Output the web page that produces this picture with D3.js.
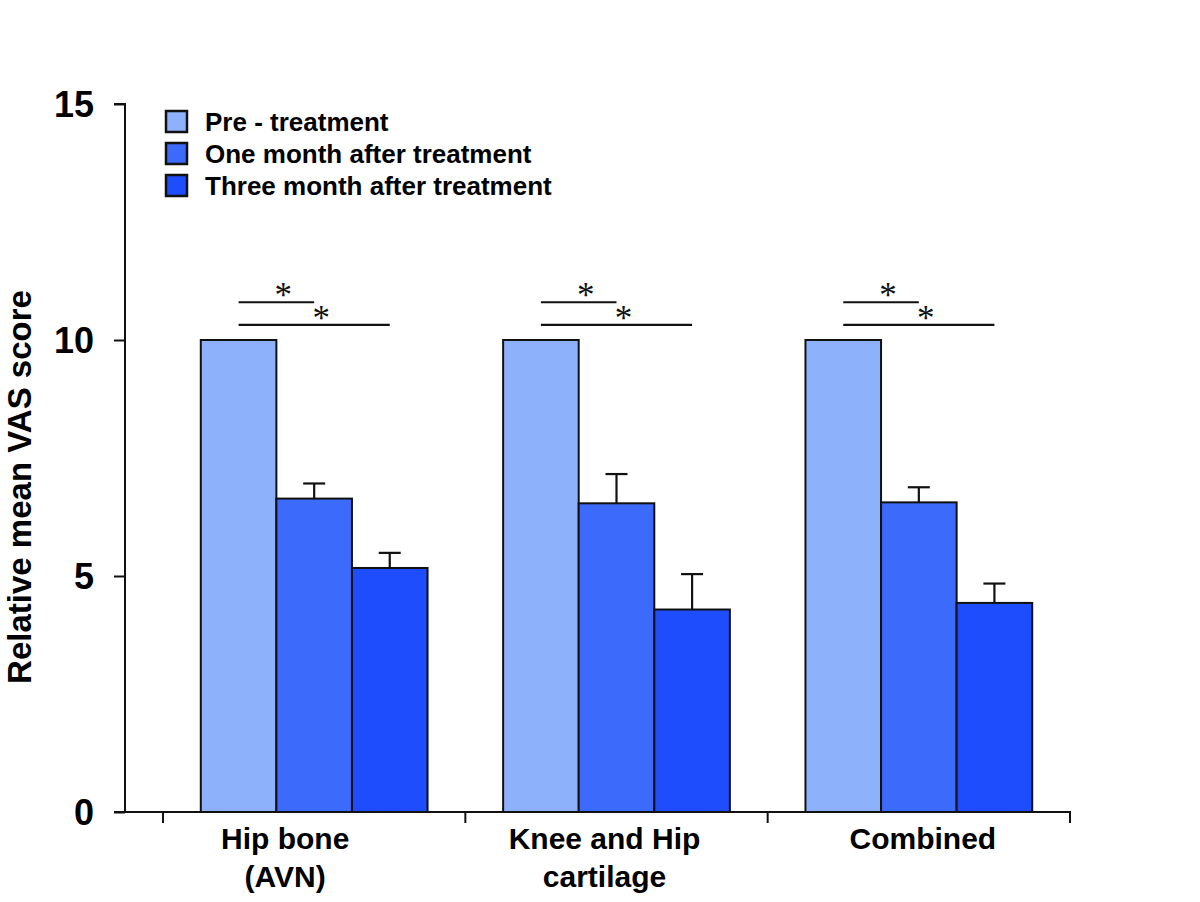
<!DOCTYPE html>
<html>
<head>
<meta charset="utf-8">
<script src="https://cdn.jsdelivr.net/npm/d3@7"></script>
<style>
  html, body { margin: 0; padding: 0; background: #fff; }
  svg { display: block; }
</style>
</head>
<body>
<svg id="chart" width="1200" height="902"></svg>
<script>
// ---- data ----
const categories = [["Hip bone", "(AVN)"], ["Knee and Hip", "cartilage"], ["Combined"]];
const seriesNames = ["Pre - treatment", "One month after treatment", "Three month after treatment"];
const preValues = [10, 10, 10];
const oneMonthValues = [6.64, 6.54, 6.56];
const threeMonthValues = [5.17, 4.29, 4.43];
const preErrors = [0, 0, 0];
const oneMonthErrors = [0.32, 0.62, 0.32];
const threeMonthErrors = [0.32, 0.75, 0.41];
const sigFrom = [0, 0];
const sigTo = [1, 2];
const sigLevel = [10.8, 10.32];
const sigLabel = ["*", "*"];
const yTicks = [0, 5, 10, 15];

// ---- layout / style ----
const colors = ["#8db1fb", "#3c6afa", "#1e4dfd"];
const svg = d3.select("#chart");
const x0 = d3.scaleBand().domain(d3.range(categories.length)).range([163, 1070]).paddingInner(0.25).paddingOuter(0.125);
const x1 = d3.scaleBand().domain(d3.range(seriesNames.length)).range([0, x0.bandwidth()]).padding(0);
const y = d3.scaleLinear().domain([0, 15]).range([812, 104]);
const values = [preValues, oneMonthValues, threeMonthValues];
const errors = [preErrors, oneMonthErrors, threeMonthErrors];
const labelShift = [-29, -12, 4];

// bars
const groups = svg.append("g").selectAll("g").data(categories).join("g")
  .attr("transform", (d, i) => `translate(${x0(i)},0)`);

groups.each(function(cat, ci) {
  const g = d3.select(this);
  seriesNames.forEach((s, si) => {
    const v = values[si][ci];
    g.append("rect")
      .attr("x", x1(si)).attr("y", y(v))
      .attr("width", x1.bandwidth()).attr("height", y(0) - y(v))
      .attr("fill", colors[si]).attr("stroke", "#111").attr("stroke-width", 2);
    const e = errors[si][ci];
    if (e > 0) {
      const cx = x1(si) + x1.bandwidth() / 2;
      g.append("line").attr("x1", cx).attr("x2", cx).attr("y1", y(v)).attr("y2", y(v + e))
        .attr("stroke", "#111").attr("stroke-width", 2.2);
      g.append("line").attr("x1", cx - 11).attr("x2", cx + 11).attr("y1", y(v + e)).attr("y2", y(v + e))
        .attr("stroke", "#111").attr("stroke-width", 2.2);
    }
  });
  sigFrom.forEach((f, k) => {
    const xa = x1(f) + x1.bandwidth() / 2;
    const xb = x1(sigTo[k]) + x1.bandwidth() / 2;
    g.append("line").attr("x1", xa).attr("x2", xb).attr("y1", y(sigLevel[k])).attr("y2", y(sigLevel[k]))
      .attr("stroke", "#111").attr("stroke-width", 2.2);
    g.append("text").attr("x", (xa + xb) / 2 + 7).attr("y", y(sigLevel[k]) + 5)
      .attr("text-anchor", "middle")
      .attr("font-family", "Liberation Serif, DejaVu Serif, serif")
      .attr("font-size", 35).attr("fill", "#111").text(sigLabel[k]);
  });
});

// y axis
const yAxis = d3.axisLeft(y).tickValues(yTicks).tickSize(11).tickPadding(20).tickFormat(d3.format("d"));
const gy = svg.append("g").attr("transform", "translate(125,0)").call(yAxis);
gy.select(".domain").attr("d", `M-11,${y(15)}H0V${y(0)}`).attr("stroke", "#111").attr("stroke-width", 2);
gy.selectAll(".tick line").attr("stroke", "#111").attr("stroke-width", 2);
gy.selectAll(".tick text").attr("font-family", "Liberation Sans, Arial, sans-serif")
  .attr("font-weight", "bold").attr("font-size", 36).attr("fill", "#000").attr("dy", "0.36em");

// x axis
const gx = svg.append("g");
gx.append("line").attr("x1", 114).attr("x2", 1071).attr("y1", y(0)).attr("y2", y(0))
  .attr("stroke", "#111").attr("stroke-width", 2);
const boundaries = d3.range(categories.length + 1).map(i => 163 + i * x0.step());
gx.selectAll("line.tk").data(boundaries).join("line").attr("class", "tk")
  .attr("x1", d => d).attr("x2", d => d).attr("y1", y(0)).attr("y2", y(0) + 11)
  .attr("stroke", "#111").attr("stroke-width", 2);

const xl = gx.selectAll("text.cat").data(categories).join("text").attr("class", "cat")
  .attr("x", (d, i) => x0(i) + x0.bandwidth() / 2 + labelShift[i])
  .attr("y", 849)
  .attr("text-anchor", "middle")
  .attr("font-family", "Liberation Sans, Arial, sans-serif")
  .attr("font-weight", "bold").attr("font-size", 30).attr("fill", "#000");
xl.each(function(d) {
  const t = d3.select(this);
  d.forEach((line, li) => {
    t.append("tspan").attr("x", t.attr("x")).attr("dy", li === 0 ? 0 : 38).text(line);
  });
});

// y title
svg.append("text")
  .attr("transform", "translate(31,487) rotate(-90)")
  .attr("text-anchor", "middle")
  .attr("font-family", "Liberation Sans, Arial, sans-serif")
  .attr("font-weight", "bold").attr("font-size", 33).attr("fill", "#000")
  .text("Relative mean VAS score");

// legend
const leg = svg.append("g").attr("transform", "translate(165,110)");
seriesNames.forEach((s, i) => {
  leg.append("rect").attr("x", 1).attr("y", i * 32 + 1).attr("width", 21).attr("height", 21)
    .attr("fill", colors[i]).attr("stroke", "#111").attr("stroke-width", 2.5);
  leg.append("text").attr("x", 40).attr("y", i * 32 + 21)
    .attr("font-family", "Liberation Sans, Arial, sans-serif")
    .attr("font-weight", "bold").attr("font-size", 26).attr("fill", "#000").text(s);
});
</script>
</body>
</html>
